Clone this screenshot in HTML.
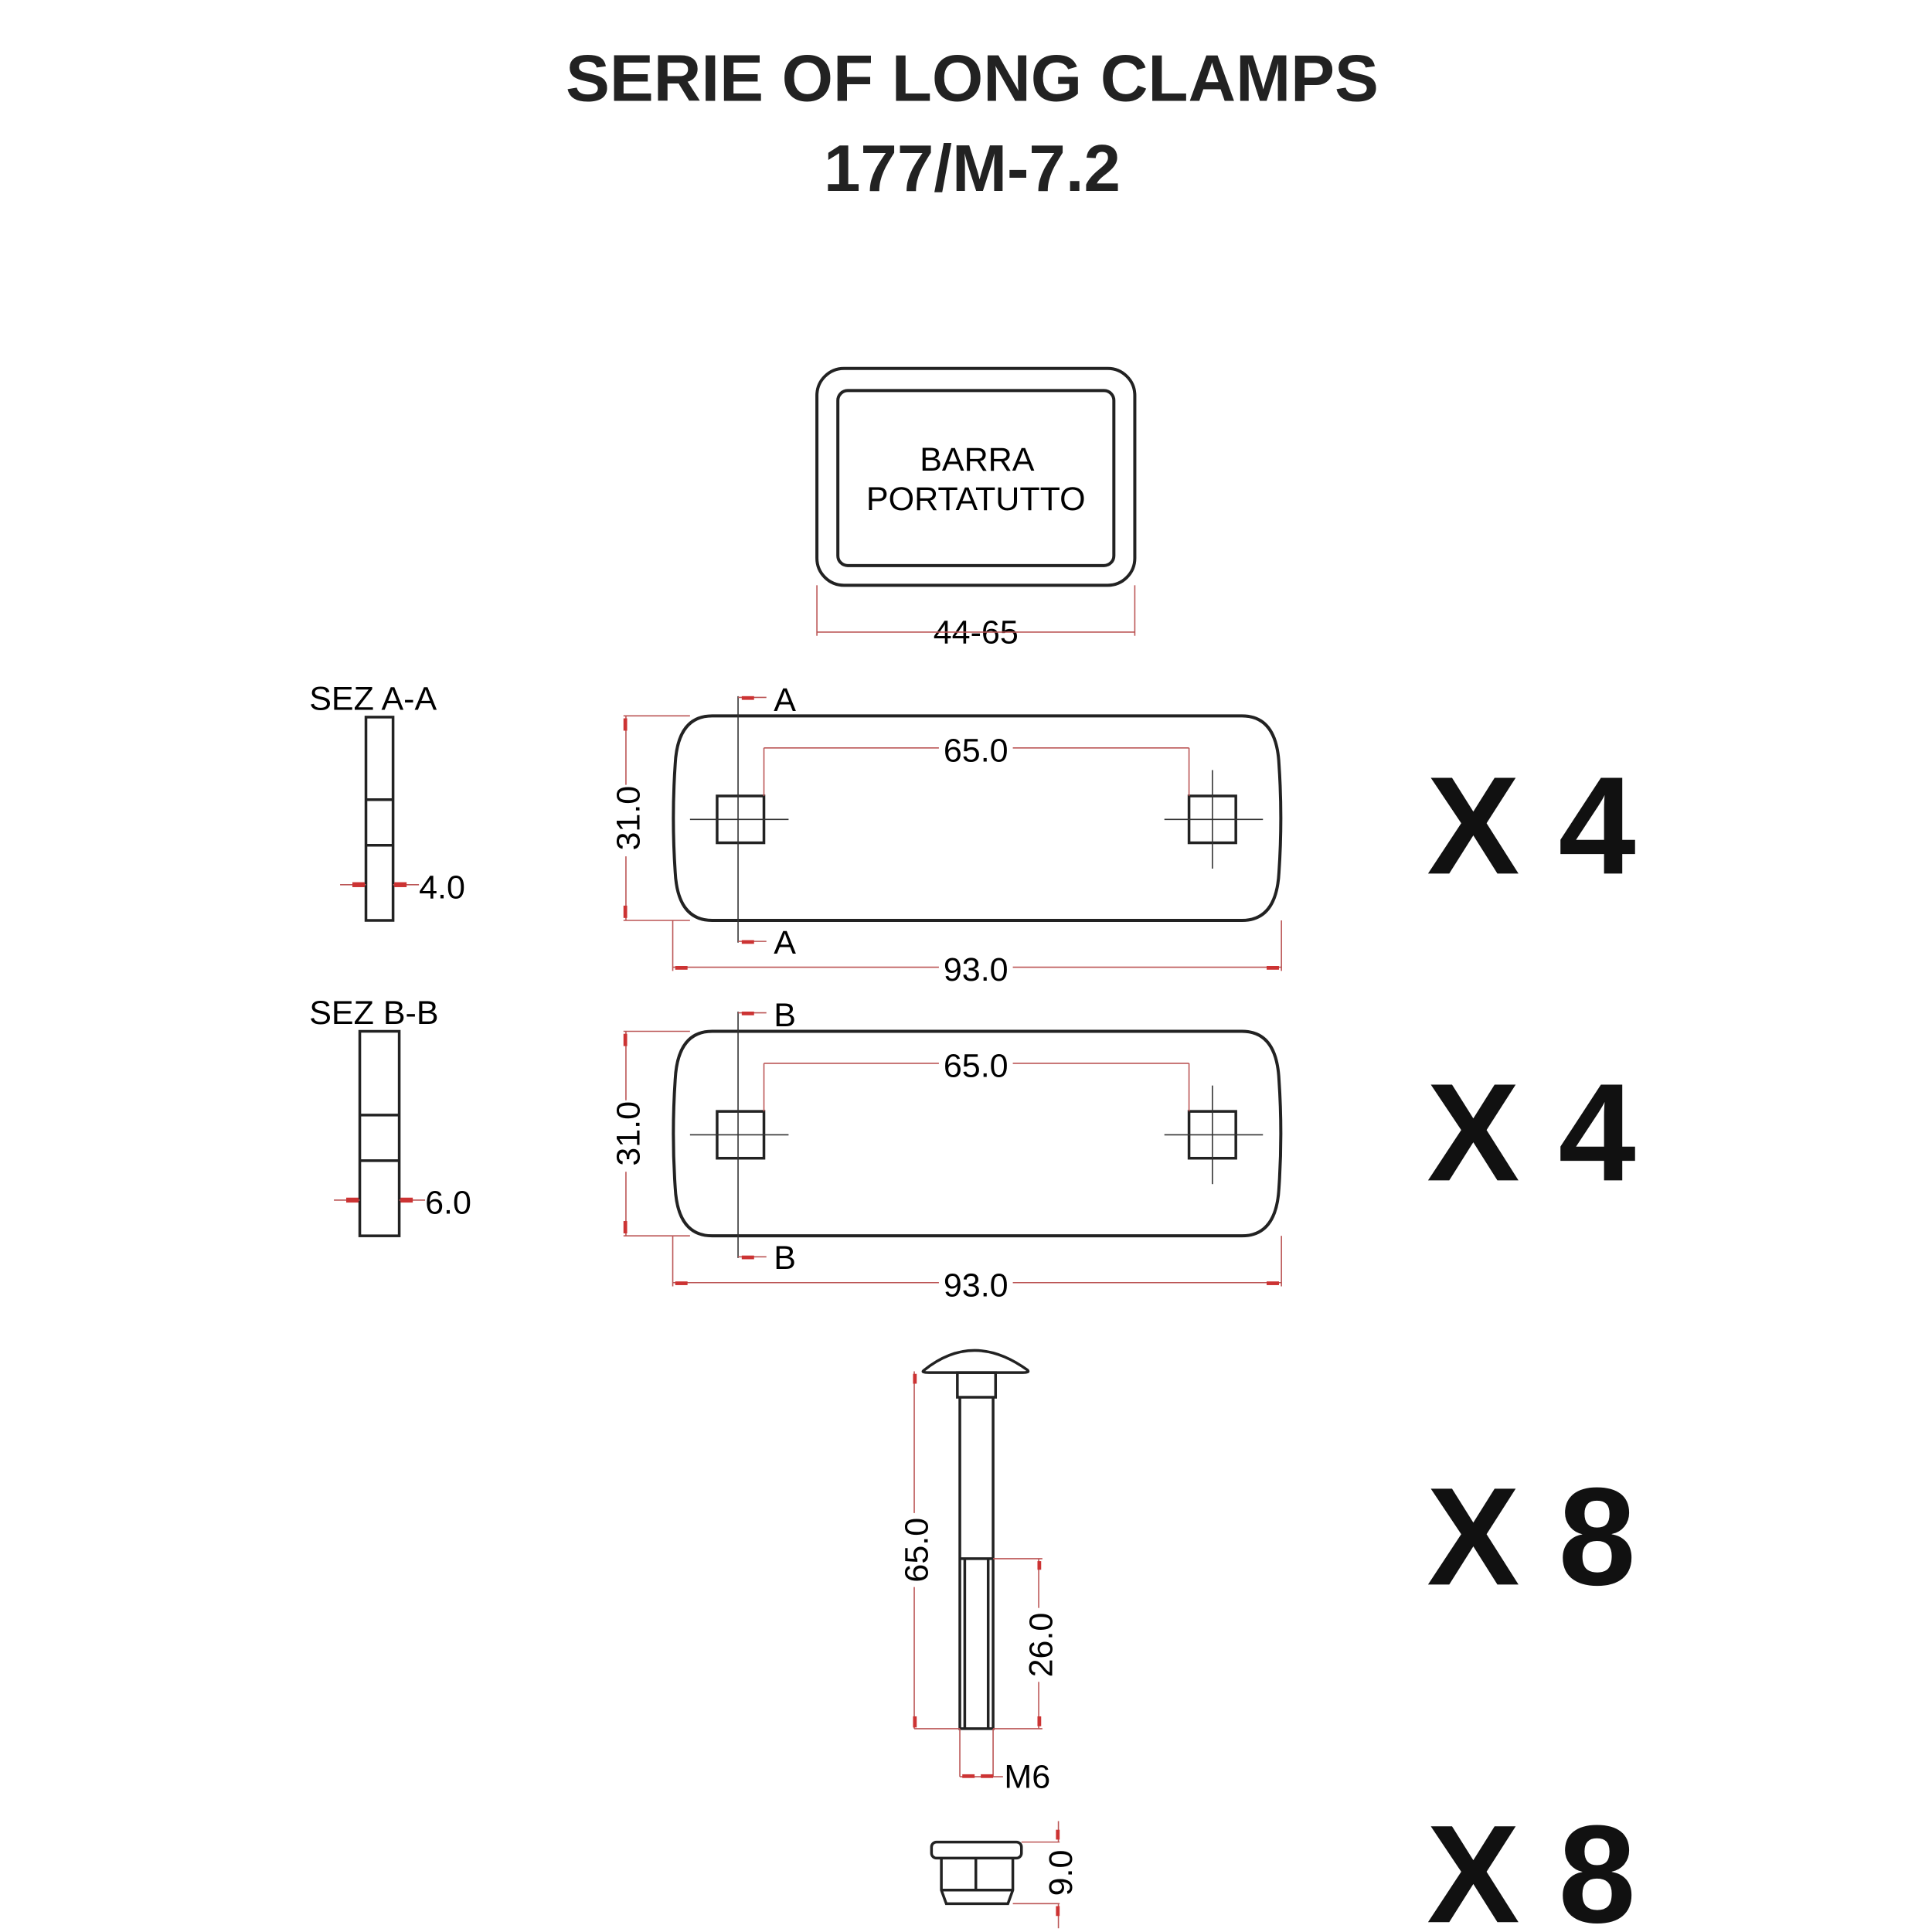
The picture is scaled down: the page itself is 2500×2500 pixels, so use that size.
<!DOCTYPE html>
<html><head><meta charset="utf-8"><style>html,body{margin:0;padding:0;background:#fff}svg{display:block}</style></head>
<body>
<svg width="2500" height="2500" viewBox="0 0 1568 1568" xmlns="http://www.w3.org/2000/svg" font-family="Liberation Sans, sans-serif">
<rect width="1568" height="1568" fill="#fff"/>
<g font-weight="bold" fill="#222" text-anchor="middle" font-size="53.5">
<text x="789" y="82">SERIE OF LONG CLAMPS</text>
<text x="789" y="155">177/M-7.2</text>
</g>
<g font-weight="bold" fill="#111" font-size="113">
<text x="1158" y="709">X 4</text>
<text x="1158" y="958">X 4</text>
<text x="1158" y="1286">X 8</text>
<text x="1158" y="1560">X 8</text>
</g>
<g fill="none" stroke="#222" stroke-width="2.5">
<rect x="663" y="299" width="258" height="176" rx="22"/>
<rect x="680" y="317" width="224" height="142" rx="8"/>
</g>
<g font-size="27" fill="#000" text-anchor="middle">
<text x="793" y="382">BARRA</text>
<text x="792" y="414">PORTATUTTO</text>
<text x="792" y="522">44-65</text>
</g>
<g stroke="#b55" stroke-width="1" fill="none">
<line x1="663" y1="475" x2="663" y2="516"/><line x1="921" y1="475" x2="921" y2="516"/>
<line x1="663" y1="513" x2="921" y2="513"/>
</g>
<g id="p1">
<path d="M578 581 H1008 Q1036 581 1038 620 Q1041 664 1038 708 Q1036 747 1008 747 H578 Q550 747 548 708 Q545 664 548 620 Q550 581 578 581 Z" fill="none" stroke="#222" stroke-width="2.5"/>
<rect x="582" y="646" width="38" height="38" fill="none" stroke="#222" stroke-width="2.2"/>
<rect x="965" y="646" width="38" height="38" fill="none" stroke="#222" stroke-width="2.2"/>
<g stroke="#333" stroke-width="1" fill="none">
<line x1="560" y1="665" x2="640" y2="665"/>
<line x1="945" y1="665" x2="1025" y2="665"/><line x1="984" y1="625" x2="984" y2="705"/>
<line x1="599" y1="565" x2="599" y2="765"/>
</g>
<g stroke="#b55" stroke-width="1" fill="none">
<line x1="599" y1="566" x2="622" y2="566"/><line x1="599" y1="764" x2="622" y2="764"/>
<line x1="506" y1="581" x2="560" y2="581"/><line x1="506" y1="747" x2="560" y2="747"/>
<line x1="508" y1="581" x2="508" y2="637"/><line x1="508" y1="695" x2="508" y2="747"/>
<line x1="620" y1="607" x2="620" y2="646"/><line x1="965" y1="607" x2="965" y2="646"/>
<line x1="620" y1="607" x2="762" y2="607"/><line x1="822" y1="607" x2="965" y2="607"/>
<line x1="546" y1="747" x2="546" y2="788"/><line x1="1040" y1="747" x2="1040" y2="788"/>
<line x1="546" y1="785" x2="762" y2="785"/><line x1="822" y1="785" x2="1040" y2="785"/>
</g>
<g fill="#c33"><rect x="506" y="583" width="3" height="10"/><rect x="506" y="735" width="3" height="10"/><rect x="548" y="784" width="10" height="3"/><rect x="1028" y="784" width="10" height="3"/><rect x="602" y="565" width="10" height="3"/><rect x="602" y="763" width="10" height="3"/></g>
<g font-size="27" fill="#000">
<text x="628" y="577">A</text><text x="628" y="774">A</text>
<text x="792" y="618" text-anchor="middle">65.0</text>
<text x="792" y="796" text-anchor="middle">93.0</text>
<text transform="translate(519 664) rotate(-90)" text-anchor="middle">31.0</text>
</g>
</g>
<g transform="translate(0 256)">
<path d="M578 581 H1008 Q1036 581 1038 620 Q1041 664 1038 708 Q1036 747 1008 747 H578 Q550 747 548 708 Q545 664 548 620 Q550 581 578 581 Z" fill="none" stroke="#222" stroke-width="2.5"/>
<rect x="582" y="646" width="38" height="38" fill="none" stroke="#222" stroke-width="2.2"/>
<rect x="965" y="646" width="38" height="38" fill="none" stroke="#222" stroke-width="2.2"/>
<g stroke="#333" stroke-width="1" fill="none">
<line x1="560" y1="665" x2="640" y2="665"/>
<line x1="945" y1="665" x2="1025" y2="665"/><line x1="984" y1="625" x2="984" y2="705"/>
<line x1="599" y1="565" x2="599" y2="765"/>
</g>
<g stroke="#b55" stroke-width="1" fill="none">
<line x1="599" y1="566" x2="622" y2="566"/><line x1="599" y1="764" x2="622" y2="764"/>
<line x1="506" y1="581" x2="560" y2="581"/><line x1="506" y1="747" x2="560" y2="747"/>
<line x1="508" y1="581" x2="508" y2="637"/><line x1="508" y1="695" x2="508" y2="747"/>
<line x1="620" y1="607" x2="620" y2="646"/><line x1="965" y1="607" x2="965" y2="646"/>
<line x1="620" y1="607" x2="762" y2="607"/><line x1="822" y1="607" x2="965" y2="607"/>
<line x1="546" y1="747" x2="546" y2="788"/><line x1="1040" y1="747" x2="1040" y2="788"/>
<line x1="546" y1="785" x2="762" y2="785"/><line x1="822" y1="785" x2="1040" y2="785"/>
</g>
<g fill="#c33"><rect x="506" y="583" width="3" height="10"/><rect x="506" y="735" width="3" height="10"/><rect x="548" y="784" width="10" height="3"/><rect x="1028" y="784" width="10" height="3"/><rect x="602" y="565" width="10" height="3"/><rect x="602" y="763" width="10" height="3"/></g>
<g font-size="27" fill="#000">
<text x="628" y="577">B</text><text x="628" y="774">B</text>
<text x="792" y="618" text-anchor="middle">65.0</text>
<text x="792" y="796" text-anchor="middle">93.0</text>
<text transform="translate(519 664) rotate(-90)" text-anchor="middle">31.0</text>
</g>
</g>
<g fill="none" stroke="#222" stroke-width="2.2">
<rect x="297" y="582" width="22" height="165"/><line x1="297" y1="649" x2="319" y2="649"/><line x1="297" y1="686" x2="319" y2="686"/>
<rect x="292" y="837" width="32" height="166"/><line x1="292" y1="905" x2="324" y2="905"/><line x1="292" y1="942" x2="324" y2="942"/>
</g>
<g stroke="#b55" stroke-width="1"><line x1="276" y1="718" x2="297" y2="718"/><line x1="319" y1="718" x2="340" y2="718"/><line x1="271" y1="974" x2="292" y2="974"/><line x1="324" y1="974" x2="345" y2="974"/></g>
<g fill="#c33"><rect x="286" y="716" width="10" height="4"/><rect x="320" y="716" width="10" height="4"/><rect x="281" y="972" width="10" height="4"/><rect x="325" y="972" width="10" height="4"/></g>
<g font-size="27" fill="#000">
<text x="251" y="576">SEZ A-A</text><text x="251" y="831">SEZ B-B</text>
<text x="340" y="729">4.0</text><text x="345" y="985">6.0</text>
</g>
<g fill="none" stroke="#222" stroke-width="2.2">
<path d="M750 1112 Q790 1080 834 1112 Q836 1114 830 1114 H754 Q747 1114 750 1112 Z"/>
<rect x="777" y="1114" width="31" height="20"/>
<path d="M779 1134 V1403 H806 V1134"/>
<line x1="779" y1="1265" x2="806" y2="1265"/>
<line x1="783" y1="1265" x2="783" y2="1403"/><line x1="802" y1="1265" x2="802" y2="1403"/>
<rect x="756" y="1495" width="73" height="13" rx="4"/>
<path d="M764 1508 V1534 L768 1545 H818 L822 1534 V1508"/>
<line x1="764" y1="1534" x2="822" y2="1534"/><line x1="792" y1="1508" x2="792" y2="1534"/>
</g>
<g stroke="#b55" stroke-width="1" fill="none">
<line x1="742" y1="1113" x2="742" y2="1228"/><line x1="742" y1="1288" x2="742" y2="1403"/>
<line x1="742" y1="1403" x2="779" y2="1403"/>
<line x1="806" y1="1265" x2="846" y2="1265"/><line x1="806" y1="1403" x2="846" y2="1403"/>
<line x1="843" y1="1265" x2="843" y2="1305"/><line x1="843" y1="1365" x2="843" y2="1403"/>
<line x1="779" y1="1403" x2="779" y2="1442"/><line x1="806" y1="1403" x2="806" y2="1442"/>
<line x1="779" y1="1442" x2="814" y2="1442"/>
<line x1="829" y1="1495" x2="860" y2="1495"/><line x1="822" y1="1545" x2="860" y2="1545"/>
<line x1="859" y1="1478" x2="859" y2="1495"/><line x1="859" y1="1545" x2="859" y2="1565"/>
</g>
<g fill="#c33"><rect x="741" y="1115" width="3" height="8"/><rect x="741" y="1393" width="3" height="9"/><rect x="842" y="1267" width="3" height="7"/><rect x="842" y="1393" width="3" height="8"/><rect x="781" y="1440" width="10" height="3"/><rect x="796" y="1440" width="10" height="3"/><rect x="857" y="1485" width="3" height="8"/><rect x="857" y="1547" width="3" height="8"/></g>
<g font-size="27" fill="#000">
<text transform="translate(753 1258) rotate(-90)" text-anchor="middle">65.0</text>
<text transform="translate(854 1335) rotate(-90)" text-anchor="middle">26.0</text>
<text x="815" y="1451">M6</text>
<text transform="translate(870 1520) rotate(-90)" text-anchor="middle">9.0</text>
</g>
</svg>
</body></html>
